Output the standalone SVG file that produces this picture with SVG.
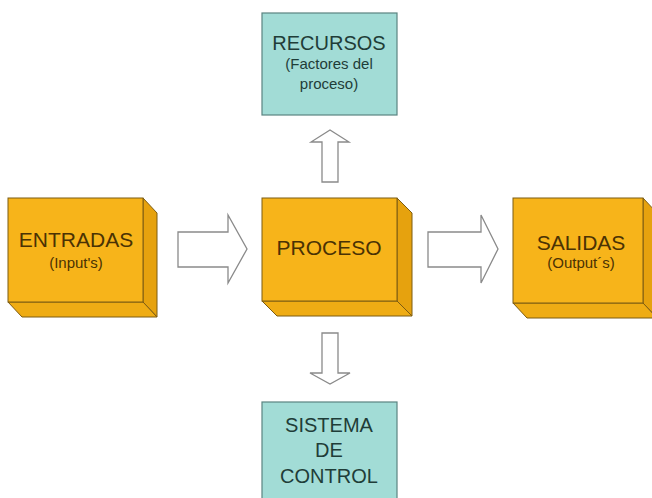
<svg xmlns="http://www.w3.org/2000/svg" width="652" height="498" viewBox="0 0 652 498">
<style>
.front{fill:#F7B41A;stroke:#7d5c12;stroke-width:1}
.side{fill:#E6A20E;stroke:#7d5c12;stroke-width:1}
.bot{fill:#EFAC14;stroke:#7d5c12;stroke-width:1}
.teal{fill:#A2DCD6;stroke:#5a8480;stroke-width:1.2}
.arrow{fill:#ffffff;stroke:#8a8a8a;stroke-width:1.3;stroke-linejoin:miter}
.t{font-family:"Liberation Sans",Arial,sans-serif;text-anchor:middle}
.o{fill:#4a3204}
.g{fill:#1f3d38}
</style>
<rect width="652" height="498" fill="#ffffff"/>
<g id="connectors">
<path class="arrow" d="M178,232 H228 V215 L247,249 L228,283 V267 H178 Z"/>
<path class="arrow" d="M428,232 H481 V215 L498,249 L481,283 V267 H428 Z"/>
<path class="arrow" d="M322,182 V142 H311 L330,130 L349,142 H338 V182 Z"/>
<path class="arrow" d="M322,333 V373 H310 L330,384 L350,373 H338 V333 Z"/>
</g>
<g id="entradas">
<polygon class="side" points="143,198 157,213 157,317 143,302"/>
<polygon class="bot" points="8,302 143,302 157,317 22,317"/>
<rect class="front" x="8" y="198" width="135" height="104"/>
<text class="t o" x="76" y="247" font-size="21">ENTRADAS</text>
<text class="t o" x="76" y="268" font-size="15">(Input's)</text>
</g>
<g id="proceso">
<polygon class="side" points="397,198 412,213 412,316 397,301"/>
<polygon class="bot" points="262,301 397,301 412,316 277,316"/>
<rect class="front" x="262" y="198" width="135" height="103"/>
<text class="t o" x="329" y="255" font-size="21">PROCESO</text>
</g>
<g id="salidas">
<polygon class="side" points="643,198 657,213 657,318 643,303"/>
<polygon class="bot" points="513,303 643,303 657,318 527,318"/>
<rect class="front" x="513" y="198" width="130" height="105"/>
<text class="t o" x="581" y="250" font-size="21">SALIDAS</text>
<text class="t o" x="581" y="268" font-size="15">(Output´s)</text>
</g>
<g id="recursos">
<rect class="teal" x="262" y="13" width="135" height="102"/>
<text class="t g" x="329" y="50" font-size="20">RECURSOS</text>
<text class="t g" x="329" y="69" font-size="15">(Factores del</text>
<text class="t g" x="329" y="89" font-size="15">proceso)</text>
</g>
<g id="sistema-de-control">
<rect class="teal" x="262" y="402" width="135" height="100"/>
<text class="t g" x="329" y="432" font-size="20">SISTEMA</text>
<text class="t g" x="329" y="457" font-size="20">DE</text>
<text class="t g" x="329" y="483" font-size="20">CONTROL</text>
</g>
</svg>
